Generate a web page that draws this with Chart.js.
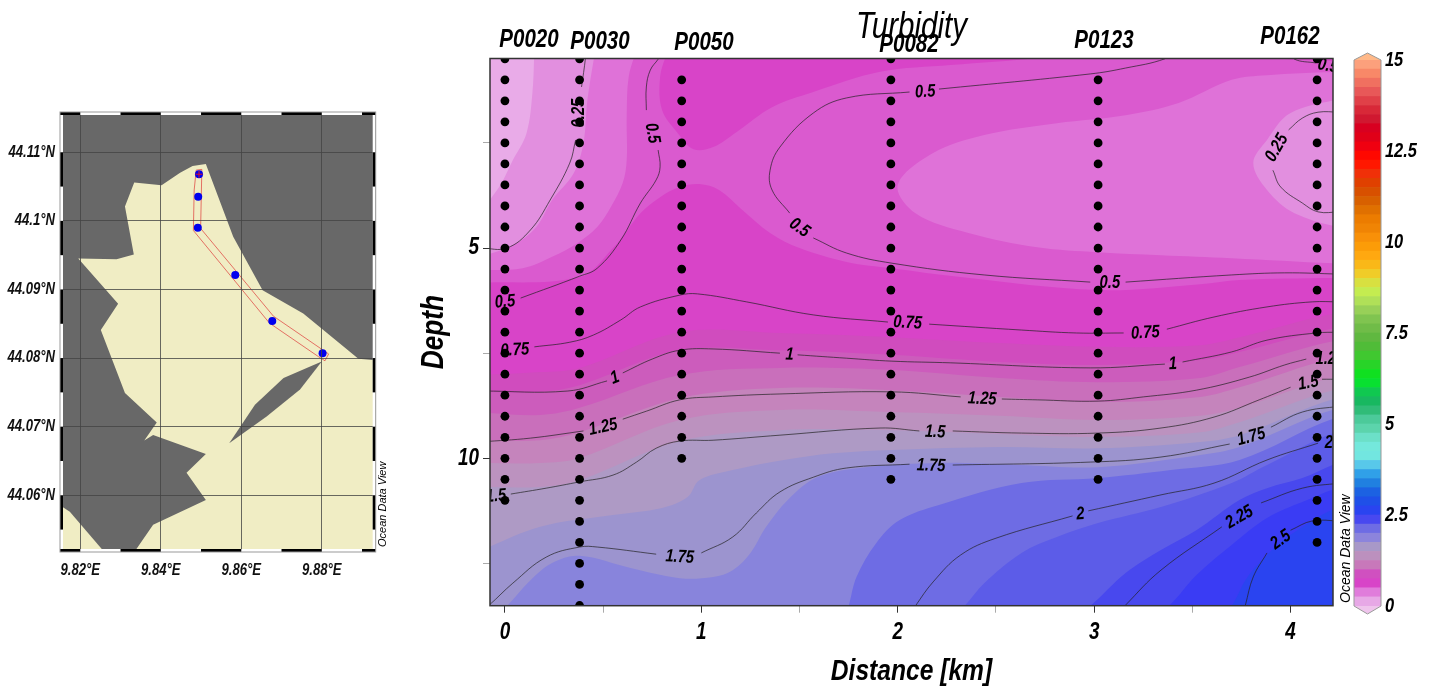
<!DOCTYPE html>
<html>
<head>
<meta charset="utf-8">
<title>Turbidity</title>
<script src="https://cdn.jsdelivr.net/npm/chart.js@4/dist/chart.umd.min.js"></script>
<style>
  html, body { margin: 0; padding: 0; background: #fff; overflow: hidden; }
  canvas { position: absolute; }
</style>
</head>
<body>
<canvas id="map" width="410" height="520" style="left:0;top:90px"></canvas>
<canvas id="section" width="960" height="690" style="left:400px;top:0"></canvas>
<canvas id="bar" width="90" height="690" style="left:1340px;top:0"></canvas>
<script>
// --- map data (lon, lat)
const lonTicks = [9.82, 9.84, 9.86, 9.88];
const latTicks = [44.06, 44.07, 44.08, 44.09, 44.1, 44.11];
const seaMain = [[9.8512,44.1083],[9.8479,44.1080],[9.8448,44.1070],[9.8402,44.1052],[9.8334,44.1056],[9.8311,44.1021],[9.8333,44.0951],[9.8290,44.0944],[9.8195,44.0945],[9.8294,44.0879],[9.8251,44.0841],[9.8311,44.0749],[9.8390,44.0706],[9.8359,44.0680],[9.8381,44.0688],[9.8512,44.0660],[9.8464,44.0633],[9.8512,44.0593],[9.8381,44.0557],[9.8314,44.05],[9.90,44.05],[9.90,44.0794],[9.8891,44.0799],[9.8754,44.0865],[9.8653,44.0899],[9.8580,44.0977]];
const seaCorner = [[9.81,44.0583],[9.8156,44.0583],[9.8174,44.0576],[9.8256,44.0520],[9.8270,44.05],[9.81,44.05]];
const landIsland = [[9.88,44.0795],[9.8705,44.0771],[9.8634,44.0732],[9.8570,44.0676],[9.8663,44.0715],[9.8746,44.0754]];
const trackOutline = [[9.8488,44.1074],[9.8502,44.1075],[9.8499,44.0989],[9.8680,44.0861],[9.8817,44.0806],[9.8808,44.0796],[9.8792,44.0802],[9.8670,44.0851],[9.8481,44.0986],[9.8483,44.1045],[9.8488,44.1074]];
const stationLon = [9.8495, 9.8493, 9.8492, 9.8585, 9.8677, 9.8802];
const stationLat = [44.1068, 44.1035, 44.0990, 44.0921, 44.0854, 44.0807];

// --- section data (km, depth)
const xTicks = [0, 0.5, 1, 1.5, 2, 2.5, 3, 3.5, 4];
const xLabels = [0, 1, 2, 3, 4];
const depthTicks = [2.5, 5, 7.5, 10, 12.5];
const depthLabels = [5, 10];
const stationNames = ['P0020', 'P0030', 'P0050', 'P0082', 'P0123', 'P0162'];
const stationKm = [0, 0.38, 0.9, 1.965, 3.02, 4.135];
const stationFirst = [0.5, 0.5, 1, 0.5, 1, 0.5];
const stationLast = [11, 13.5, 10, 10.5, 10.5, 12];
const sampleDepths = [0.5,1,1.5,2,2.5,3,3.5,4,4.5,5,5.5,6,6.5,7,7.5,8,8.5,9,9.5,10,10.5,11,11.5,12,12.5,13,13.5];

// colour band edges
const bandKm = [-0.15, 0.18, 0.38, 0.89, 1.40, 1.97, 2.52, 3.02, 3.54, 3.74, 4.3];
const band1 = [8.02, 7.95, 7.85, 7.00, 7.02, 7.12, 7.26, 7.35, 7.31, 7.12, 6.5];
const band2 = [8.42, 8.42, 8.26, 7.43, 7.43, 7.54, 7.71, 7.78, 7.66, 7.47, 6.85];
const band3 = [8.90, 8.97, 8.80, 8.02, 7.85, 7.90, 8.09, 8.19, 8.09, 7.83, 7.15];
const band4 = [9.57, 9.57, 9.38, 8.57, 8.33, 8.38, 8.54, 8.66, 8.54, 8.31, 7.55];
const band5 = [10.11, 10.11, 9.99, 9.09, 8.85, 8.90, 8.99, 9.09, 8.99, 8.80, 8.0];
const band6 = [10.68, 10.68, 10.52, 9.59, 9.33, 9.33, 9.42, 9.49, 9.38, 9.14, 8.3];
const band7 = [[-0.15,12.25],[0.18,11.63],[0.55,11.35],[0.80,11.18],[0.93,10.92],[0.99,10.52],[1.16,10.28],[1.42,10.04],[1.67,9.88],[1.97,9.80],[2.52,9.73],[3.02,9.76],[3.54,9.61],[3.74,9.45],[4.3,8.5]];
const band8 = [[-0.08,13.85],[0.01,13.51],[0.13,12.90],[0.24,12.49],[0.38,12.32],[0.64,12.61],[0.89,12.85],[1.06,12.82],[1.16,12.66],[1.25,12.25],[1.33,11.63],[1.44,10.99],[1.59,10.45],[1.84,10.21],[2.21,10.11],[2.62,10.16],[3.02,10.21],[3.54,9.92],[3.74,9.73],[4.3,8.75]];
const band9 = [[1.72,13.9],[1.75,13.51],[1.79,12.82],[1.89,12.02],[2.01,11.47],[2.21,11.11],[2.63,10.59],[3.02,10.47],[3.39,10.28],[3.74,10.04],[4.3,8.95]];
const band10 = [[2.25,13.9],[2.34,13.51],[2.44,12.97],[2.63,12.25],[2.81,11.87],[3.02,11.54],[3.34,11.16],[3.70,10.59],[3.88,10.16],[4.3,9.3]];
const band11 = [[2.85,13.9],[2.98,13.51],[3.16,12.73],[3.34,12.18],[3.52,11.71],[3.74,10.99],[3.88,10.71],[4.06,10.47],[4.3,10.05]];
const band12 = [[3.25,13.9],[3.38,13.51],[3.52,12.78],[3.70,12.06],[3.88,11.42],[4.06,11.04],[4.3,10.65]];
const band13 = [[3.62,13.9],[3.70,13.51],[3.77,12.90],[3.84,12.49],[4.00,11.82],[4.3,11.1]];
const bandTop = [[-0.15,5.83],[0.38,5.69],[0.55,5.00],[0.69,4.17],[0.79,3.79],[0.89,3.55],[0.99,3.48],[1.09,3.62],[1.21,4.10],[1.35,4.64],[1.50,5.00],[1.74,5.33],[1.97,5.48],[2.32,5.69],[3.02,6.00],[3.54,5.86],[3.74,5.76],[4.3,5.71]];
const blob = [[0.83,0.29],[0.79,0.93],[0.80,1.72],[0.88,2.27],[0.96,2.65],[1.06,2.60],[1.18,2.24],[1.36,1.65],[1.57,1.29],[1.91,0.81],[2.27,0.65],[2.72,0.48],[3.03,0.29]];
const bandLeft1 = [[0.67,0.29],[0.63,0.93],[0.62,1.88],[0.62,2.91],[0.60,3.45],[0.54,4.02],[0.47,4.50],[0.37,4.88],[0.24,5.21],[0.09,5.48],[-0.15,5.52]];
const bandLeft2 = [[0.46,0.29],[0.42,1.48],[0.40,2.50],[0.35,3.22],[0.24,3.86],[0.16,4.50],[0.04,4.93],[-0.15,5.2]];
const bandLeft3 = [[0.15,0.29],[0.14,1.31],[0.11,2.27],[0.04,2.91],[-0.04,3.62],[-0.15,4.1]];
const lens = [[4.5,0.8],[4.5,5.4],[4.3,5.38],[3.70,5.24],[3.34,5.17],[3.02,5.10],[2.71,4.98],[2.36,4.64],[2.09,4.17],[2.00,3.50],[2.18,2.74],[2.44,2.31],[2.81,2.03],[3.16,1.84],[3.43,1.55],[3.70,1.00],[3.88,0.89],[4.3,0.8]];
const lensEnd = [[4.5,1.4],[4.5,4.6],[4.3,4.55],[4.02,4.17],[3.88,3.62],[3.81,2.98],[3.88,2.43],[4.00,1.79],[4.3,1.4]];

// contour lines, null = gap for a label
const line025a = [[-0.12,5.0],[0.01,5.0],[0.13,4.57],[0.23,3.86],[0.33,2.98],[0.36,2.43],null,[0.39,1.17],[0.41,0.48],[0.41,0.3]];
const line025b = [[4.25,1.77],[4.14,1.77],[4.06,1.91],[3.99,2.19],null,[3.91,3.15],[3.95,3.55],[4.06,3.93],[4.14,4.14],[4.25,4.14]];
const line05a = [[0.08,6.19],[0.38,5.67],[0.47,5.48],[0.59,4.81],[0.69,3.93],[0.77,3.38],[0.79,3.07],[0.78,2.67],null,[0.72,1.72],[0.72,1.17],[0.74,0.77],[0.78,0.51],[0.81,0.29]];
const line05b = [[3.42,0.29],[3.36,0.5],[3.16,0.72],[2.98,0.86],[2.21,1.22],null,[2.06,1.29],[1.74,1.43],[1.57,1.79],[1.40,2.6],[1.35,3.15],[1.36,3.62],[1.45,4.17],null,[1.57,4.76],[1.74,5.12],[1.97,5.36],[2.44,5.64],[2.98,5.81],null,[3.16,5.81],[3.70,5.64],[3.97,5.59],[4.25,5.62]];
const line05c = [[4.0,0.33],[4.02,0.51],[4.13,0.6]];
const line075 = [[0.15,7.35],[0.33,7.24],[0.45,7.07],[0.59,6.71],[0.69,6.40],[0.89,6.12],[0.98,6.09],[1.23,6.28],[1.57,6.59],[1.95,6.76],null,[2.16,6.81],[2.63,6.95],[2.91,7.02],[3.15,7.02],null,[3.37,6.93],[3.61,6.64],[3.88,6.40],[4.11,6.28],[4.25,6.28]];
const line1 = [[-0.12,8.40],[0.32,8.40],[0.52,8.16],null,[0.60,7.97],[0.75,7.64],[0.89,7.43],[1.06,7.40],[1.40,7.50],null,[1.49,7.54],[1.74,7.62],[1.97,7.69],[2.27,7.73],[2.98,7.85],[3.36,7.76],null,[3.45,7.71],[3.70,7.47],[3.88,7.19],[4.13,7.02],[4.25,7.00]];
const line125 = [[-0.12,9.61],[0.13,9.52],[0.40,9.35],null,[0.60,9.07],[0.72,8.88],[0.89,8.61],[1.06,8.54],[1.40,8.47],[1.97,8.42],[2.32,8.54],null,[2.53,8.59],[2.71,8.61],[3.02,8.64],[3.25,8.54],[3.52,8.38],[3.79,8.07],[3.97,7.78],[4.08,7.64]];
const line15 = [[0.03,10.85],[0.21,10.71],[0.38,10.56],[0.55,10.40],[0.67,10.09],[0.77,9.76],[0.89,9.59],[1.06,9.57],[1.40,9.45],[1.91,9.28],[2.11,9.35],null,[2.28,9.35],[2.63,9.40],[3.02,9.40],[3.34,9.28],[3.61,9.02],[3.84,8.61],[4.00,8.31],null,[4.16,8.12],[4.25,8.12]];
const line175 = [[-0.13,13.66],[-0.08,13.49],[0.04,12.97],[0.21,12.35],[0.38,12.11],[0.47,12.11],[0.77,12.28],null,[1.00,12.25],[1.16,11.87],[1.28,11.30],[1.40,10.80],[1.57,10.45],[1.74,10.23],[2.06,10.14],null,[2.28,10.16],[2.98,10.09],[3.34,9.97],[3.69,9.66],null,[3.90,9.26],[4.06,8.90],[4.25,8.76]];
const line2 = [[2.06,13.73],[2.09,13.51],[2.18,12.94],[2.32,12.30],[2.50,11.90],[2.89,11.37],null,[2.97,11.25],[3.34,10.87],[3.61,10.59],[3.88,10.04],[4.14,9.64]];
const line225 = [[3.13,13.66],[3.16,13.49],[3.34,12.66],[3.65,11.63],null,[3.85,11.06],[4.06,10.71],[4.25,10.59]];
const line25 = [[3.76,13.66],[3.77,13.49],[3.81,12.82],[3.88,12.25],null,[4.00,11.71],[4.11,11.49],[4.25,11.49]];

// contour labels: text, km, depth, angle
const contourLabels = [
  ['0.25',0.377,1.79,-90],['0.25',3.93,2.62,-60],
  ['0.5',0,6.28,-5],['0.5',0.75,2.27,80],['0.5',2.14,1.29,-3],['0.5',1.50,4.52,35],['0.5',3.08,5.83,0],['0.5',4.19,0.67,10],
  ['0.75',0.05,7.43,-3],['0.75',2.05,6.78,3],['0.75',3.26,7.02,-3],
  ['1',0.56,8.09,-20],['1',1.45,7.54,3],['1',3.40,7.76,-3],
  ['1.25',0.50,9.26,-12],['1.25',2.43,8.59,3],['1.25',4.2,7.64,0],
  ['1.5',-0.045,10.90,-5],['1.5',2.19,9.38,2],['1.5',4.09,8.21,-10],
  ['1.75',0.89,12.35,3],['1.75',2.17,10.18,2],['1.75',3.80,9.49,-15],
  ['2',2.93,11.33,-5],['2',4.195,9.64,0],
  ['2.25',3.74,11.40,-30],['2.5',3.95,11.94,-35]
];

// colour bar, one colour per 0.25 step from 0 to 15
const barStep = 0.25;
const barTicks = [0, 2.5, 5, 7.5, 10, 12.5, 15];
const barColors = ['#E7A8E6','#E07CDB','#D844C8','#D050C0','#C878BA','#BC90BE','#A898C8','#8C84DC','#6E6CE4','#4848F0','#2A44F0','#1F50E8','#1C62E2','#2080E0','#30A0E8','#58C8EA','#72E6E0','#74E8DC','#6CE0C8','#5CD4AC','#4CCA9A','#30BC78','#18B860','#10C850','#08E030','#10E020','#28D428','#40C830','#50BC38','#60B840','#70BC48','#80C450','#98D058','#B0E058','#C4EC50','#D8E040','#F0CC28','#FAB818','#FFA810','#FC9C08','#F89008','#F08404','#EC7C00','#E07000','#D86000','#D85000','#E04000','#F03008','#FF1800','#FF0800','#F00010','#E00018','#D80020','#D01830','#D82838','#E04048','#E85858','#F07060','#F88868','#FCA07C'];

const FONT = '"Liberation Sans", sans-serif';

// no condensed font here, so squeeze all chart text sideways like Arial Narrow
function squeezeText(id) {
  const ctx = document.getElementById(id).getContext('2d');
  const plain = ctx.fillText.bind(ctx);
  ctx.plainText = plain;
  ctx.fillText = function (text, x, y) {
    ctx.save();
    ctx.translate(x, y);
    ctx.scale(0.82, 1);
    plain(text, 0, 0);
    ctx.restore();
  };
}
['map', 'section', 'bar'].forEach(squeezeText);

function toPts(pairs) {
  return pairs.map(p => p ? { x: p[0], y: p[1] } : { x: null, y: null });
}

// polygon for a filled area, drawn with the line element
function area(pairs, color, tension) {
  return {
    data: toPts(pairs), showLine: true, fill: 'shape', backgroundColor: color,
    borderWidth: 0, pointRadius: 0, tension: tension, clip: 0
  };
}

function below(curve) {
  const first = curve[0], last = curve[curve.length - 1];
  return curve.concat([[4.8, last[1]], [4.8, 16], [first[0], 16]]);
}

function above(curve) {
  const first = curve[0], last = curve[curve.length - 1];
  return curve.concat([[last[0] < 1 ? -0.6 : 4.8, last[1]], [last[0] < 1 ? -0.6 : 4.8, -2], [first[0], -2]]);
}

function zipBand(depths) {
  return depths.map((d, i) => [bandKm[i], d]);
}

function contour(pairs) {
  return {
    data: toPts(pairs), showLine: true, borderColor: '#222', borderWidth: 0.7,
    pointRadius: 0, tension: 0.4, fill: false, spanGaps: false, clip: 0
  };
}

// --- section datasets, painted in list order
const sectionSets = [
  area([[-1, -1], [5, -1], [5, 15], [-1, 15]], '#D844C8', 0),
  area(above(bandTop), '#DA5ACF', 0.35),
  area(above(blob), '#D844C8', 0.35),
  area(above(bandLeft1), '#DF72D8', 0.35),
  area(above(bandLeft2), '#E28FDF', 0.35),
  area(above(bandLeft3), '#E9ABE8', 0.35),
  area(lens, '#DF72D8', 0.35),
  area(lensEnd, '#E28FDF', 0.35),
  area(below(zipBand(band1)), '#D04CBE', 0.35),
  area(below(zipBand(band2)), '#CC5CBC', 0.35),
  area(below(zipBand(band3)), '#C96FBB', 0.35),
  area(below(zipBand(band4)), '#C584BC', 0.35),
  area(below(zipBand(band5)), '#BC92BF', 0.35),
  area(below(zipBand(band6)), '#AE9AC5', 0.35),
  area(below(band7), '#9C94CF', 0.35),
  area(below(band8), '#8884DC', 0.35),
  area(below(band9), '#6E6CE4', 0.35),
  area(below(band10), '#5C5CE8', 0.35),
  area(below(band11), '#4848EE', 0.35),
  area(below(band12), '#3A3CF4', 0.35),
  area(below(band13), '#2A44F0', 0.35)
];
[line025a, line025b, line05a, line05b, line05c, line075, line1, line125, line15, line175, line2, line225, line25]
  .forEach(l => sectionSets.push(contour(l)));

stationKm.forEach((km, i) => {
  const depths = sampleDepths.filter(d => d >= stationFirst[i] && d <= stationLast[i]);
  sectionSets.push({
    data: depths.map(d => ({ x: km, y: d })), showLine: false,
    pointRadius: 4.4, pointBackgroundColor: '#000', pointBorderWidth: 0, clip: 0
  });
});

// station names sit where ODV moved them to avoid overlaps
const stationLabelX = [529, 600, 704, 909, 1104, 1290];
const stationLabelY = [40, 42, 43, 45, 41, 37];

const sectionText = {
  id: 'sectionText',
  afterDatasetsDraw(chart) {
    const { ctx, chartArea: a, scales: { x, y } } = chart;
    ctx.save();
    ctx.beginPath();
    ctx.rect(a.left, a.top, a.right - a.left, a.bottom - a.top);
    ctx.clip();
    ctx.fillStyle = '#000';
    ctx.textAlign = 'center';
    ctx.textBaseline = 'middle';
    ctx.font = 'italic bold 18px ' + FONT;
    contourLabels.forEach(l => {
      ctx.save();
      ctx.translate(x.getPixelForValue(l[1]), y.getPixelForValue(l[2]));
      ctx.rotate(l[3] * Math.PI / 180);
      ctx.fillText(l[0], 0, 0);
      ctx.restore();
    });
    ctx.restore();
  },
  afterDraw(chart) {
    const { ctx, chartArea: a } = chart;
    ctx.save();
    ctx.strokeStyle = '#333';
    ctx.lineWidth = 1.5;
    ctx.strokeRect(a.left, a.top, a.right - a.left, a.bottom - a.top);
    ctx.fillStyle = '#000';
    ctx.textAlign = 'center';
    ctx.textBaseline = 'middle';
    ctx.font = 'italic bold 25px ' + FONT;
    stationNames.forEach((name, i) => {
      ctx.fillText(name, stationLabelX[i] - 400, stationLabelY[i]);
    });
    ctx.translate(1346 - 400, 603);
    ctx.rotate(-Math.PI / 2);
    ctx.textAlign = 'left';
    ctx.font = 'italic 14px ' + FONT;
    ctx.plainText('Ocean Data View', 0, 0);
    ctx.restore();
  }
};

new Chart(document.getElementById('section'), {
  type: 'scatter',
  data: { datasets: sectionSets.slice().reverse() },
  plugins: [sectionText],
  options: {
    responsive: false,
    animation: false,
    events: [],
    layout: { autoPadding: false, padding: { left: 15, right: 27, top: 0, bottom: 0 } },
    elements: { line: { capBezierPoints: false } },
    plugins: {
      legend: { display: false },
      tooltip: { enabled: false },
      title: {
        display: true, text: 'Turbidity', fullSize: false, color: '#000',
        font: { family: FONT, style: 'italic', size: 36, weight: 'normal' },
        padding: { top: 6, bottom: 9.3 }
      }
    },
    scales: {
      x: {
        type: 'linear', min: -0.076, max: 4.216,
        afterBuildTicks: s => { s.ticks = xTicks.map(v => ({ value: v })); },
        afterFit: s => { s.height = 84.3; },
        grid: {
          drawOnChartArea: false, tickLength: 7,
          color: c => xLabels.includes(c.tick.value) ? '#333' : '#aaa'
        },
        border: { display: false },
        ticks: {
          callback: v => xLabels.includes(v) ? String(v) : '',
          color: '#000', padding: 6, maxRotation: 0, autoSkip: false,
          font: { family: FONT, style: 'italic', size: 23, weight: 'bold' }
        },
        title: {
          display: true, text: 'Distance [km]', color: '#000',
          font: { family: FONT, style: 'italic', size: 30, weight: 'bold' },
          padding: { top: 0, bottom: 0 }
        }
      },
      y: {
        type: 'linear', min: 0.493, max: 13.505, reverse: true,
        afterBuildTicks: s => { s.ticks = depthTicks.map(v => ({ value: v })); },
        afterFit: s => { s.width = 75; },
        grid: {
          drawOnChartArea: false, tickLength: 7,
          color: c => depthLabels.includes(c.tick.value) ? '#333' : '#aaa'
        },
        border: { display: false },
        ticks: {
          callback: v => depthLabels.includes(v) ? String(v) : '',
          color: '#000', padding: 4, autoSkip: false,
          font: { family: FONT, style: 'italic', size: 23, weight: 'bold' }
        },
        title: {
          display: true, text: 'Depth', color: '#000',
          font: { family: FONT, style: 'italic', size: 32, weight: 'bold' },
          padding: { top: 0, bottom: 0 }
        }
      }
    }
  }
});

// --- map
const mapFrame = {
  id: 'mapFrame',
  afterDraw(chart) {
    const { ctx, chartArea: a, scales: { x, y } } = chart;
    const w = 3;
    ctx.save();
    ctx.fillStyle = '#fff';
    ctx.fillRect(a.left, a.top, a.right - a.left, w);
    ctx.fillRect(a.left, a.bottom - w, a.right - a.left, w);
    ctx.fillRect(a.left, a.top, w, a.bottom - a.top);
    ctx.fillRect(a.right - w, a.top, w, a.bottom - a.top);
    ctx.fillStyle = '#000';
    // black bars every second 0.01 degree
    [[x.min, 9.82], [9.83, 9.84], [9.85, 9.86], [9.87, 9.88], [9.89, x.max]].forEach(b => {
      const l = x.getPixelForValue(b[0]), r = x.getPixelForValue(b[1]);
      ctx.fillRect(l, a.top, r - l, w);
      ctx.fillRect(l, a.bottom - w, r - l, w);
    });
    [[44.11, 44.105], [44.10, 44.095], [44.09, 44.085], [44.08, 44.075], [44.07, 44.065], [44.06, 44.055]].forEach(b => {
      const t = y.getPixelForValue(b[0]), e = y.getPixelForValue(b[1]);
      ctx.fillRect(a.left, t, w, e - t);
      ctx.fillRect(a.right - w, t, w, e - t);
    });
    ctx.strokeStyle = '#999';
    ctx.lineWidth = 1;
    ctx.strokeRect(a.left, a.top, a.right - a.left, a.bottom - a.top);
    ctx.fillStyle = '#000';
    ctx.translate(383, a.bottom - 5);
    ctx.rotate(-Math.PI / 2);
    ctx.textBaseline = 'middle';
    ctx.font = 'italic 11px ' + FONT;
    ctx.plainText('Ocean Data View', 0, 0);
    ctx.restore();
  }
};

const mapSets = [
  area([[9.7, 44], [10, 44], [10, 44.2], [9.7, 44.2]], '#686868', 0),
  area(seaMain, '#F0EDC4', 0),
  area(seaCorner, '#F0EDC4', 0),
  area(landIsland, '#686868', 0),
  { data: toPts(trackOutline), showLine: true, borderColor: '#E0504A', borderWidth: 0.8, pointRadius: 0, fill: false },
  { data: stationLon.map((v, i) => ({ x: v, y: stationLat[i] })), showLine: false, pointRadius: 4, pointBackgroundColor: '#0000EE', pointBorderWidth: 0 },
  { data: [{ x: stationLon[0], y: stationLat[0] }], showLine: false, pointStyle: 'cross', pointRadius: 3.5, pointBorderColor: '#E01020', pointBorderWidth: 1 }
];

new Chart(document.getElementById('map'), {
  type: 'scatter',
  data: { datasets: mapSets.slice().reverse() },
  plugins: [mapFrame],
  options: {
    responsive: false,
    animation: false,
    events: [],
    layout: { autoPadding: false, padding: { left: 0, right: 34.3, top: 22, bottom: 28 } },
    plugins: { legend: { display: false }, tooltip: { enabled: false } },
    scales: {
      x: {
        type: 'linear', min: 9.81496, max: 9.8934,
        afterBuildTicks: s => { s.ticks = lonTicks.map(v => ({ value: v })); },
        afterFit: s => { s.height = 30; },
        grid: { z: 1, color: '#444', lineWidth: 0.8, drawTicks: false },
        border: { display: false },
        ticks: {
          callback: v => v.toFixed(2) + '°E', color: '#111', padding: 9, maxRotation: 0, autoSkip: false,
          font: { family: FONT, style: 'italic', size: 16, weight: 'bold' }
        }
      },
      y: {
        type: 'linear', min: 44.05173, max: 44.11587,
        afterBuildTicks: s => { s.ticks = latTicks.map(v => ({ value: v })); },
        afterFit: s => { s.width = 60; },
        grid: { z: 1, color: '#444', lineWidth: 0.8, drawTicks: false },
        border: { display: false },
        ticks: {
          callback: v => (v === 44.1 ? '44.1' : v.toFixed(2)) + '°N', color: '#111', padding: 5, autoSkip: false,
          font: { family: FONT, style: 'italic', size: 16, weight: 'bold' }
        }
      }
    }
  }
});

// --- colour bar
const barTips = {
  id: 'barTips',
  afterDatasetsDraw(chart) {
    const { ctx, chartArea: a } = chart;
    const mid = (a.left + a.right) / 2;
    ctx.save();
    ctx.strokeStyle = '#999';
    ctx.lineWidth = 1;
    ctx.fillStyle = '#FFB888';
    ctx.beginPath();
    ctx.moveTo(a.left, a.top);
    ctx.lineTo(mid, a.top - 7);
    ctx.lineTo(a.right, a.top);
    ctx.closePath();
    ctx.fill();
    ctx.fillStyle = '#EFC4EC';
    ctx.beginPath();
    ctx.moveTo(a.left, a.bottom);
    ctx.lineTo(mid, a.bottom + 8);
    ctx.lineTo(a.right, a.bottom);
    ctx.closePath();
    ctx.fill();
    ctx.beginPath();
    ctx.moveTo(a.left, a.bottom);
    ctx.lineTo(a.left, a.top);
    ctx.lineTo(mid, a.top - 7);
    ctx.lineTo(a.right, a.top);
    ctx.lineTo(a.right, a.bottom);
    ctx.lineTo(mid, a.bottom + 8);
    ctx.closePath();
    ctx.stroke();
    ctx.restore();
  }
};

new Chart(document.getElementById('bar'), {
  type: 'bar',
  data: {
    labels: ['Turbidity'],
    datasets: barColors.map(c => ({ data: [barStep], backgroundColor: c, borderWidth: 0, stack: 'c', barPercentage: 1, categoryPercentage: 1 }))
  },
  plugins: [barTips],
  options: {
    responsive: false,
    animation: false,
    events: [],
    layout: { autoPadding: false, padding: { left: 14, right: 0, top: 60, bottom: 84 } },
    plugins: { legend: { display: false }, tooltip: { enabled: false } },
    scales: {
      x: { display: false, stacked: true },
      y: {
        position: 'right', stacked: true, min: 0, max: 15,
        afterBuildTicks: s => { s.ticks = barTicks.map(v => ({ value: v })); },
        afterFit: s => { s.width = 49; },
        grid: { display: false, drawTicks: false },
        border: { display: false },
        ticks: {
          callback: v => String(v), color: '#000', padding: 4, autoSkip: false,
          font: { family: FONT, style: 'italic', size: 20, weight: 'bold' }
        }
      }
    }
  }
});
</script>
</body>
</html>
